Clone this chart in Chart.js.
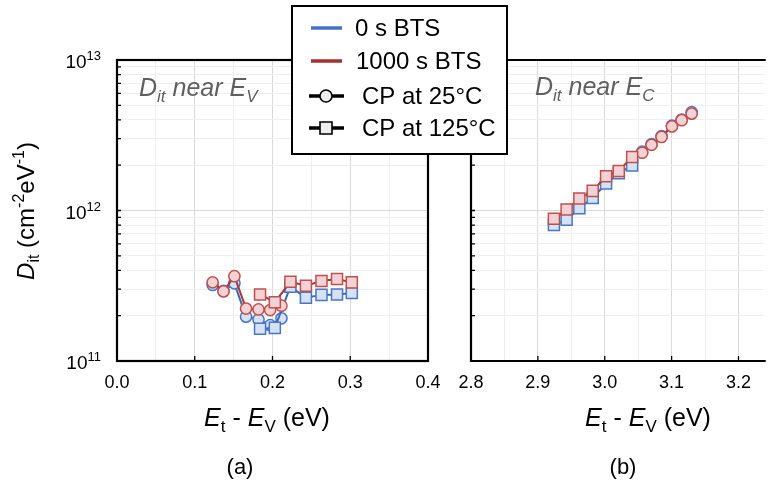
<!DOCTYPE html>
<html>
<head>
<meta charset="utf-8">
<script src="https://cdn.jsdelivr.net/npm/chart.js@4.4.1/dist/chart.umd.min.js"></script>
<style>
html, body { margin: 0; padding: 0; background: #fff; }
#wrap { position: relative; width: 773px; height: 490px; overflow: hidden; }
#wrap canvas { position: absolute; left: 0; top: 0; }
</style>
</head>
<body>
<div id="wrap">
  <canvas id="panelA" width="773" height="490"></canvas>
  <canvas id="panelB" width="773" height="490"></canvas>
</div>
<script>
// gridline / tick positions
const yTicks = [1e11, 2e11, 3e11, 4e11, 5e11, 6e11, 7e11, 8e11, 9e11,
                1e12, 2e12, 3e12, 4e12, 5e12, 6e12, 7e12, 8e12, 9e12, 1e13];
const xTicksA = [0, 0.05, 0.1, 0.15, 0.2, 0.25, 0.3, 0.35, 0.4];
const xTicksB = [2.8, 2.85, 2.9, 2.95, 3.0, 3.05, 3.1, 3.15, 3.2];

// (a) Dit near Ev
const cp25X_A = [0.123, 0.137, 0.151, 0.166, 0.182, 0.197, 0.2115];
const cp25_0s_A = [3.20e11, 2.93e11, 3.28e11, 1.97e11, 1.89e11, 1.73e11, 1.92e11];
const cp25_1000s_A = [3.33e11, 2.90e11, 3.66e11, 2.23e11, 2.20e11, 2.18e11, 2.33e11];
const cp125X_A = [0.184, 0.203, 0.223, 0.243, 0.263, 0.283, 0.302];
const cp125_0s_A = [1.64e11, 1.66e11, 3.12e11, 2.63e11, 2.75e11, 2.77e11, 2.83e11];
const cp125_1000s_A = [2.77e11, 2.46e11, 3.36e11, 3.16e11, 3.40e11, 3.51e11, 3.33e11];

// (b) Dit near Ec
const cp125X_B = [2.924, 2.943, 2.962, 2.982, 3.002, 3.021, 3.041];
const cp125_0s_B = [8.0e11, 8.67e11, 1.035e12, 1.21e12, 1.51e12, 1.77e12, 1.99e12];
const cp125_1000s_B = [8.81e11, 1.016e12, 1.20e12, 1.35e12, 1.69e12, 1.83e12, 2.27e12];
const cp25X_B = [3.056, 3.070, 3.085, 3.1005, 3.115, 3.130];
const cp25_0s_B = [2.46e12, 2.76e12, 3.12e12, 3.66e12, 4.02e12, 4.50e12];
const cp25_1000s_B = [2.42e12, 2.73e12, 3.08e12, 3.62e12, 3.98e12, 4.40e12];

const FONT = '"Liberation Sans", Arial, sans-serif';
const BLUE = { line: '#3b67b5', mark: '#4a76c4', fill: '#d5e1f4' };
const RED = { line: '#a73636', mark: '#c0504d', fill: '#f2d2d4' };

function series(xs, ys, col, shape, order) {
  return {
    data: xs.map((x, i) => ({ x: x, y: ys[i] })),
    borderColor: col.line,
    backgroundColor: col.fill,
    pointBorderColor: col.mark,
    pointBackgroundColor: col.fill,
    pointStyle: shape,
    pointRadius: shape === 'rect' ? 7.8 : 5.6,
    pointBorderWidth: 1.5,
    borderWidth: 2,
    tension: 0,
    order: order
  };
}

// draws mixed text: parts = [[text, style]], style in '', 'i', 'sub', 'isub', 'sup'
function rich(ctx, parts, x, y, size, align) {
  const fontOf = s => {
    const small = s.indexOf('sub') >= 0 || s === 'sup';
    const it = s.indexOf('i') === 0;
    return (it ? 'italic ' : '') + Math.round(small ? size * 0.68 : size) + 'px ' + FONT;
  };
  const widths = parts.map(p => { ctx.font = fontOf(p[1]); return ctx.measureText(p[0]).width; });
  const total = widths.reduce((a, b) => a + b, 0);
  let cx = x;
  if (align === 'center') cx = x - total / 2;
  if (align === 'right') cx = x - total;
  ctx.textAlign = 'left';
  ctx.textBaseline = 'alphabetic';
  parts.forEach((p, i) => {
    ctx.font = fontOf(p[1]);
    let dy = 0;
    if (p[1].indexOf('sub') >= 0) dy = size * 0.22;
    if (p[1] === 'sup') dy = -size * 0.4;
    ctx.fillText(p[0], cx, y + dy);
    cx += widths[i];
  });
}

function isPow10(v) {
  const e = Math.round(Math.log10(v));
  return Math.abs(v - Math.pow(10, e)) / v < 1e-6;
}
function isTenth(v) {
  return Math.abs(v * 10 - Math.round(v * 10)) < 1e-6;
}

function innerTicks(chart) {
  const ctx = chart.ctx, a = chart.chartArea;
  const ys = chart.scales.y, xs = chart.scales.x;
  ctx.save();
  ctx.strokeStyle = '#000';
  ctx.lineWidth = 1.3;
  ctx.beginPath();
  yTicks.forEach(v => {
    const p = ys.getPixelForValue(v);
    ctx.moveTo(a.left, p); ctx.lineTo(a.left + 4, p);
  });
  xs.ticks.forEach(t => {
    if (!isTenth(t.value)) return;
    const p = xs.getPixelForValue(t.value);
    if (p <= a.left + 2 || p >= a.right - 2) return;
    ctx.moveTo(p, a.bottom); ctx.lineTo(p, a.bottom - 5);
  });
  ctx.stroke();
  ctx.restore();
}

function xTitle(ctx, cx, label, lx) {
  ctx.fillStyle = '#000';
  rich(ctx, [['E', 'i'], ['t', 'sub'], [' - ', ''], ['E', 'i'], ['V', 'sub'], [' (eV)', '']], cx, 426, 25, 'center');
  ctx.font = '22px ' + FONT;
  ctx.textAlign = 'center';
  ctx.textBaseline = 'alphabetic';
  ctx.fillText(label, lx, 474);
}

const decorA = {
  id: 'decorA',
  afterDraw(chart) {
    const ctx = chart.ctx, a = chart.chartArea;
    innerTicks(chart);
    ctx.save();
    ctx.strokeStyle = '#000';
    ctx.lineWidth = 2.2;
    ctx.strokeRect(a.left, a.top, a.right - a.left, a.bottom - a.top);
    // y tick labels as powers of ten
    ctx.fillStyle = '#000';
    yTicks.filter(isPow10).forEach(v => {
      const p = chart.scales.y.getPixelForValue(v);
      const e = String(Math.round(Math.log10(v)));
      rich(ctx, [['10', ''], [e, 'sup']], 101, p + 8, 19, 'right');
    });
    // panel note
    ctx.fillStyle = '#5f5f5f';
    rich(ctx, [['D', 'i'], ['it', 'isub'], [' near ', 'i'], ['E', 'i'], ['V', 'isub']], 139, 96, 25, 'left');
    // y title
    ctx.save();
    ctx.translate(34, 211);
    ctx.rotate(-Math.PI / 2);
    ctx.fillStyle = '#000';
    rich(ctx, [['D', 'i'], ['it', 'sub'], [' (cm', ''], ['-2', 'sup'], ['eV', ''], ['-1', 'sup'], [')', '']], 0, 0, 24, 'center');
    ctx.restore();
    xTitle(ctx, 267, '(a)', 240);
    ctx.restore();
  }
};

const decorB = {
  id: 'decorB',
  afterDraw(chart) {
    const ctx = chart.ctx, a = chart.chartArea;
    innerTicks(chart);
    ctx.save();
    ctx.strokeStyle = '#000';
    ctx.lineWidth = 2.2;
    ctx.beginPath();
    ctx.moveTo(a.right + 2, a.top); ctx.lineTo(a.left, a.top);
    ctx.lineTo(a.left, a.bottom); ctx.lineTo(a.right + 2, a.bottom);
    ctx.stroke();
    ctx.fillStyle = '#5f5f5f';
    rich(ctx, [['D', 'i'], ['it', 'isub'], [' near ', 'i'], ['E', 'i'], ['C', 'isub']], 535, 95, 25, 'left');
    xTitle(ctx, 648, '(b)', 623);

    // legend box
    ctx.fillStyle = '#fff';
    ctx.fillRect(292, 6, 215, 148);
    ctx.lineWidth = 2;
    ctx.strokeStyle = '#000';
    ctx.strokeRect(292, 6, 215, 148);
    const rows = [
      { y: 28, text: '0 s BTS', color: '#4472c4', tx: 355 },
      { y: 61, text: '1000 s BTS', color: '#a5302f', tx: 356 },
      { y: 96, text: 'CP at 25°C', color: '#000', tx: 362, mark: 'circle' },
      { y: 128, text: 'CP at 125°C', color: '#000', tx: 362, mark: 'rect' }
    ];
    rows.forEach(r => {
      ctx.strokeStyle = r.color;
      ctx.lineWidth = 3.5;
      ctx.beginPath();
      ctx.moveTo(r.mark ? 309 : 311, r.y);
      ctx.lineTo(r.mark ? 344 : 342, r.y);
      ctx.stroke();
      if (r.mark) {
        ctx.fillStyle = '#eee';
        ctx.lineWidth = 1.6;
        ctx.beginPath();
        if (r.mark === 'circle') ctx.arc(326, r.y, 6, 0, Math.PI * 2);
        else ctx.rect(320, r.y - 6, 12, 12);
        ctx.fill();
        ctx.stroke();
      }
      ctx.fillStyle = '#000';
      ctx.font = '24px ' + FONT;
      ctx.textAlign = 'left';
      ctx.textBaseline = 'middle';
      ctx.fillText(r.text, r.tx, r.y + 1);
    });
    ctx.restore();
  }
};

function gridColor(major) {
  return c => (c.tick && major(c.tick.value)) ? '#d9d9d9' : '#eeeeee';
}

function makeOptions(xMin, xMax, xTicks, pad, yWidth) {
  return {
    responsive: false,
    animation: false,
    events: [],
    layout: { padding: pad },
    plugins: { legend: { display: false }, tooltip: { enabled: false } },
    scales: {
      x: {
        type: 'linear',
        min: xMin,
        max: xMax,
        afterBuildTicks: s => { s.ticks = xTicks.map(v => ({ value: v })); },
        afterFit: s => { s.height = 490 - 361; },
        border: { display: false },
        grid: { color: gridColor(isTenth), drawTicks: false, lineWidth: 1 },
        ticks: {
          autoSkip: false, maxRotation: 0, padding: 11, color: '#000',
          font: { family: FONT, size: 18 },
          callback: v => isTenth(v) ? v.toFixed(1) : ''
        }
      },
      y: {
        type: 'logarithmic',
        min: 1e11,
        max: 1e13,
        afterBuildTicks: s => { s.ticks = yTicks.map(v => ({ value: v })); },
        afterFit: s => { s.width = yWidth; },
        border: { display: false },
        grid: { color: gridColor(isPow10), drawTicks: false, lineWidth: 1 },
        ticks: { display: false }
      }
    }
  };
}

new Chart(document.getElementById('panelA'), {
  type: 'line',
  data: {
    datasets: [
      series(cp25X_A, cp25_0s_A, BLUE, 'circle', 4),
      series(cp125X_A, cp125_0s_A, BLUE, 'rect', 3),
      series(cp25X_A, cp25_1000s_A, RED, 'circle', 2),
      series(cp125X_A, cp125_1000s_A, RED, 'rect', 1)
    ]
  },
  options: makeOptions(0, 0.4, xTicksA, { top: 60, right: 773 - 428, left: 0, bottom: 0 }, 117),
  plugins: [decorA]
});

new Chart(document.getElementById('panelB'), {
  type: 'line',
  data: {
    datasets: [
      series(cp25X_B, cp25_0s_B, BLUE, 'circle', 4),
      series(cp125X_B, cp125_0s_B, BLUE, 'rect', 3),
      series(cp25X_B, cp25_1000s_B, RED, 'circle', 2),
      series(cp125X_B, cp125_1000s_B, RED, 'rect', 1)
    ]
  },
  options: makeOptions(2.8, 3.2377, xTicksB, { top: 60, right: 0, left: 0, bottom: 0 }, 471),
  plugins: [decorB]
});
</script>
</body>
</html>
